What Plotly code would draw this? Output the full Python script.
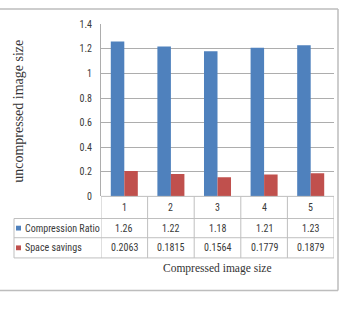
import plotly.graph_objects as go

categories = [1, 2, 3, 4, 5]
compression_ratio = [1.26, 1.22, 1.18, 1.21, 1.23]
space_savings = [0.2063, 0.1815, 0.1564, 0.1779, 0.1879]
ratio_labels = ["1.26", "1.22", "1.18", "1.21", "1.23"]
savings_labels = ["0.2063", "0.1815", "0.1564", "0.1779", "0.1879"]
series_names = ["Compression Ratio", "Space savings"]
y_ticks = [0, 0.2, 0.4, 0.6, 0.8, 1, 1.2, 1.4]
y_ticktext = ["0", "0.2", "0.4", "0.6", "0.8", "1", "1.2", "1.4"]

W, H = 344, 312
BLUE = "#4F81BD"
RED = "#C0504D"
GRID = "#ADADAD"
TXT = "#3A3A3A"
NUMFONT = "Liberation Sans Narrow, Arial Narrow, Roboto Condensed, Liberation Sans, sans-serif"
SERIF = "Liberation Serif, Times New Roman, serif"

def px(x):
    return x / W

def py(y):
    return (H - y) / H

fig = go.Figure()
fig.add_trace(go.Bar(x=categories, y=compression_ratio, name=series_names[0],
                     marker=dict(color=BLUE, line=dict(width=0))))
fig.add_trace(go.Bar(x=categories, y=space_savings, name=series_names[1],
                     marker=dict(color=RED, line=dict(width=0))))

x0p, x1p = 101, 334
y_axis, y_top = 198, 19

fig.update_layout(
    width=W, height=H, margin=dict(l=0, r=0, t=0, b=0),
    paper_bgcolor="white", plot_bgcolor="white",
    showlegend=False, barmode="group", bargap=0.42, bargroupgap=0,
    xaxis=dict(domain=[px(x0p), px(x1p)], range=[0.5, 5.5], showticklabels=False,
               showgrid=False, zeroline=False, showline=False, ticks=""),
    yaxis=dict(domain=[py(y_axis), py(y_top)], range=[0, 1.4], tickvals=y_ticks,
               ticktext=y_ticktext, showgrid=True, gridcolor=GRID, gridwidth=1,
               zeroline=False, showline=True, linecolor=GRID, linewidth=1,
               ticks="", ticklabelstandoff=6,
               tickfont=dict(family=NUMFONT, size=10, color=TXT)),
    font=dict(family=NUMFONT, color=TXT),
)

shapes = []
LINE = dict(color="#BFBFBF", width=1)
row_y = [y_axis, 221, 241, 262]
for i, yy in enumerate(row_y):
    shapes.append(dict(type="line", xref="paper", yref="paper",
                       x0=px(14 if i > 0 else x0p), x1=px(x1p), y0=py(yy), y1=py(yy), line=LINE))
for k in range(len(categories) + 1):
    xb = 0.5 + k
    shapes.append(dict(type="line", xref="x", yref="paper", x0=xb, x1=xb,
                       y0=py(262), y1=py(y_axis), line=LINE))
shapes.append(dict(type="line", xref="paper", yref="paper", x0=px(14), x1=px(14),
                   y0=py(262), y1=py(221), line=LINE))
for yy, col in [(231, BLUE), (251.5, RED)]:
    shapes.append(dict(type="rect", xref="paper", yref="paper", x0=px(16), x1=px(21),
                       y0=py(yy + 2.5), y1=py(yy - 2.5), fillcolor=col, line=dict(width=0)))
FRAME = dict(color="#BDBDBD", width=1.5)
shapes.append(dict(type="line", xref="paper", yref="paper", x0=0, x1=px(338), y0=py(3), y1=py(3), line=FRAME))
shapes.append(dict(type="line", xref="paper", yref="paper", x0=px(338), x1=px(338), y0=py(3), y1=py(296), line=FRAME))
shapes.append(dict(type="line", xref="paper", yref="paper", x0=0, x1=px(338), y0=py(296), y1=py(296), line=FRAME))

ann = []
def cell(x, y, text, xref="x", xanchor="center", font=None):
    return dict(x=x, y=y, xref=xref, yref="paper", text=text, showarrow=False,
                xanchor=xanchor, yanchor="middle",
                font=font or dict(family=NUMFONT, size=10, color=TXT))

for c, r, s in zip(categories, ratio_labels, savings_labels):
    ann.append(cell(c, py(209.5), str(c)))
    ann.append(cell(c, py(231), r))
    ann.append(cell(c, py(251.5), s))
for yy, name in [(231, series_names[0]), (251.5, series_names[1])]:
    ann.append(cell(px(23), py(yy), name, xref="paper", xanchor="left"))
ann.append(cell(px(217), py(273), "Compressed image size", xref="paper",
                font=dict(family=SERIF, size=11.5, color="#333333")))
t = cell(px(19), py(110), "uncompressed image size", xref="paper",
         font=dict(family=SERIF, size=14, color="#333333"))
t["textangle"] = -90
ann.append(t)

fig.update_layout(shapes=shapes, annotations=ann)
fig.write_html("out.html")
